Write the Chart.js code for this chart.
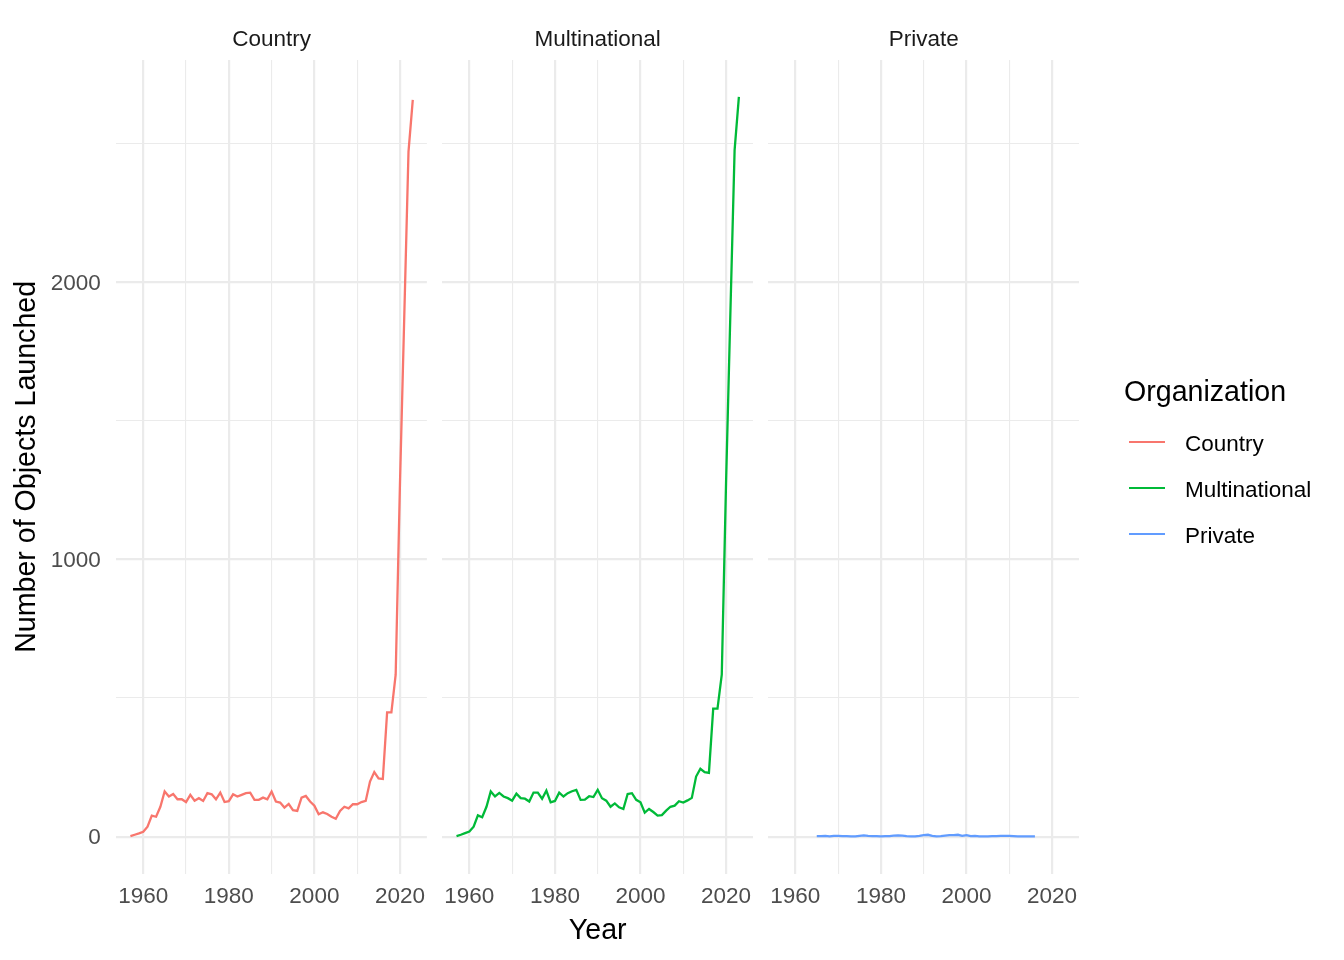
<!DOCTYPE html>
<html><head><meta charset="utf-8">
<script src="https://cdn.jsdelivr.net/npm/chart.js@4.4.1/dist/chart.umd.min.js"></script>
<style>
html,body{margin:0;padding:0;background:#fff;width:1344px;height:960px;overflow:hidden;font-family:"Liberation Sans",Arial,Helvetica,sans-serif}
canvas{position:absolute;left:0;top:0}
.leg{position:absolute;white-space:nowrap;line-height:1;color:#000;font-family:"Liberation Sans",Arial,sans-serif}
.key{position:absolute;height:2.2px;width:36px}
</style></head><body>
<canvas id="c1" width="1344" height="960"></canvas>
<canvas id="c2" width="1344" height="960"></canvas>
<canvas id="c3" width="1344" height="960"></canvas>
<div class="leg" style="left:1124px;top:377px;font-size:28.6px">Organization</div>
<div class="key" style="left:1129px;top:441.2px;background:#F8766D"></div>
<div class="key" style="left:1129px;top:487.2px;background:#00BA38"></div>
<div class="key" style="left:1129px;top:533.2px;background:#619CFF"></div>
<div class="leg" style="left:1185px;top:433px;font-size:22.5px">Country</div>
<div class="leg" style="left:1185px;top:479px;font-size:22.5px">Multinational</div>
<div class="leg" style="left:1185px;top:525px;font-size:22.5px">Private</div>
<script>
// ---- data ----
const facetNames = ["Country", "Multinational", "Private"];
const seriesColors = ["#F8766D", "#00BA38", "#619CFF"];

const countryYears = [1957,1958,1959,1960,1961,1962,1963,1964,1965,1966,1967,1968,1969,1970,1971,1972,1973,1974,1975,1976,1977,1978,1979,1980,1981,1982,1983,1984,1985,1986,1987,1988,1989,1990,1991,1992,1993,1994,1995,1996,1997,1998,1999,2000,2001,2002,2003,2004,2005,2006,2007,2008,2009,2010,2011,2012,2013,2014,2015,2016,2017,2018,2019,2020,2021,2022,2023];
const countryValues = [2,7,12,18,36,76,72,108,163,145,154,135,135,125,151,130,139,129,157,153,135,159,125,128,153,145,151,157,159,133,133,141,135,163,127,123,105,118,96,93,141,147,127,112,81,88,82,72,65,93,108,102,117,117,125,129,199,233,210,208,448,448,584,1270,1870,2470,2656];

const multinationalYears = [1957,1958,1959,1960,1961,1962,1963,1964,1965,1966,1967,1968,1969,1970,1971,1972,1973,1974,1975,1976,1977,1978,1979,1980,1981,1982,1983,1984,1985,1986,1987,1988,1989,1990,1991,1992,1993,1994,1995,1996,1997,1998,1999,2000,2001,2002,2003,2004,2005,2006,2007,2008,2009,2010,2011,2012,2013,2014,2015,2016,2017,2018,2019,2020,2021,2022,2023];
const multinationalValues = [2,7,13,19,36,77,70,108,163,145,158,145,139,130,155,139,137,127,159,159,137,166,124,129,159,145,157,164,169,133,134,146,143,169,139,130,108,120,106,100,154,157,133,124,87,100,89,76,78,94,108,112,128,123,131,140,217,245,233,230,462,462,584,1275,1880,2475,2667];

const privateYears = [1965,1966,1967,1968,1969,1970,1971,1972,1973,1974,1975,1976,1977,1978,1979,1980,1981,1982,1983,1984,1985,1986,1987,1988,1989,1990,1991,1992,1993,1994,1995,1996,1997,1998,1999,2000,2001,2002,2003,2004,2005,2006,2007,2008,2009,2010,2011,2012,2013,2014,2015,2016];
const privateValues = [2,2,3,1,3,3,2,2,1,1,3,5,3,2,2,1,2,2,4,5,4,2,1,1,3,6,7,3,1,2,4,6,6,7,3,6,2,3,1,1,1,2,2,3,3,3,2,1,1,1,1,1];

const xTickValues = [1960,1970,1980,1990,2000,2010,2020];
const xLabelValues = [1960,1980,2000,2020];
const yTickValues = [0,500,1000,1500,2000,2500];
const yLabelValues = [0,1000,2000];

// ---- layout ----
const W = 1344, H = 960;
const panelLefts = [116.3, 442.4, 768.4];
const panelWidth = 310.6;
const areaTop = 60, areaBottom = 873.7;
const xMin = 1953.7, xMax = 2026.3, yMin = -133.3, yMax = 2800;
const gridColor = "#EBEBEB";
const FONT = "'Liberation Sans', Arial, Helvetica, sans-serif";

function makePanel(id, idx, years, values) {
  const first = idx === 0, middle = idx === 1;
  const left = panelLefts[idx];
  const right = left + panelWidth;
  const yAxisWidth = first ? left : 0;
  new Chart(document.getElementById(id), {
    type: "line",
    data: {
      datasets: [{
        label: facetNames[idx],
        data: years.map((y, i) => ({x: y, y: values[i]})),
        borderColor: seriesColors[idx],
        backgroundColor: seriesColors[idx],
        borderWidth: 2.3,
        pointRadius: 0,
        tension: 0,
        fill: false
      }]
    },
    options: {
      responsive: false,
      animation: false,
      devicePixelRatio: 1,
      events: [],
      layout: {padding: {left: first ? 0 : left, right: W - right, top: 0, bottom: 0}},
      plugins: {
        legend: {display: false},
        tooltip: {enabled: false},
        title: {
          display: true, text: facetNames[idx], position: "top", fullSize: false,
          color: "#1A1A1A", font: {family: FONT, size: 22.5, weight: "normal", lineHeight: 1.2},
          padding: {top: 26, bottom: 7}
        }
      },
      scales: {
        x: {
          type: "linear", min: xMin, max: xMax,
          afterBuildTicks: s => { s.ticks = xTickValues.map(v => ({value: v})); },
          afterFit: s => { s.height = H - areaBottom; },
          ticks: {
            autoSkip: false, maxRotation: 0, minRotation: 0, padding: 10,
            color: "#4D4D4D", font: {family: FONT, size: 22.5, lineHeight: 1.2},
            callback: v => xLabelValues.includes(v) ? String(v) : ""
          },
          grid: {
            color: gridColor, drawTicks: false,
            lineWidth: c => (c.tick && xLabelValues.includes(c.tick.value)) ? 2.2 : 1.1
          },
          border: {display: false},
          title: {
            display: middle, text: "Year", color: "#000",
            font: {family: FONT, size: 28.6, lineHeight: 1.2},
            padding: {top: 0, bottom: 12}
          }
        },
        y: {
          type: "linear", min: yMin, max: yMax,
          afterBuildTicks: s => { s.ticks = yTickValues.map(v => ({value: v})); },
          afterFit: s => { s.width = yAxisWidth; },
          ticks: {
            display: first, padding: 15.6, labelOffset: 1.5,
            color: "#4D4D4D", font: {family: FONT, size: 22.5, lineHeight: 1.2},
            callback: v => yLabelValues.includes(v) ? String(v) : ""
          },
          grid: {
            color: gridColor, drawTicks: false,
            lineWidth: c => (c.tick && yLabelValues.includes(c.tick.value)) ? 2.2 : 1.1
          },
          border: {display: false},
          title: {
            display: first, text: "Number of Objects Launched", color: "#000",
            font: {family: FONT, size: 28.6, lineHeight: 1.2},
            padding: {top: 9.5, bottom: 0}
          }
        }
      }
    }
  });
}

makePanel("c1", 0, countryYears, countryValues);
makePanel("c2", 1, multinationalYears, multinationalValues);
makePanel("c3", 2, privateYears, privateValues);
</script>
</body></html>
